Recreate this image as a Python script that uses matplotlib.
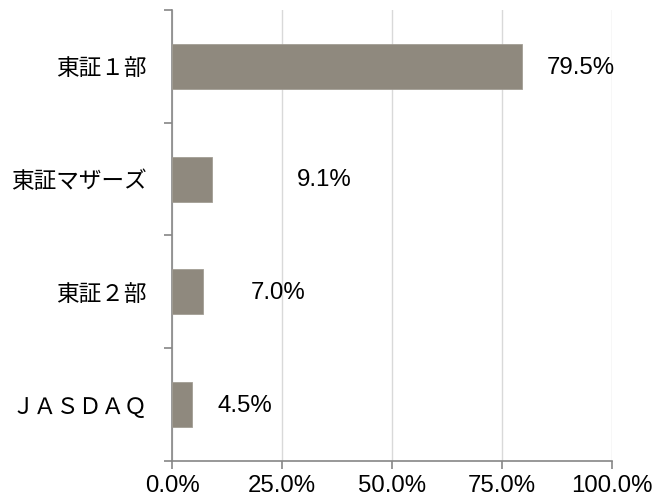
import numpy as np
import matplotlib
matplotlib.use('Agg')
import matplotlib.pyplot as plt
from matplotlib.ticker import FuncFormatter, FixedLocator

plt.rcParams['font.family'] = ['Liberation Sans', 'Noto Sans CJK JP', 'DejaVu Sans']

# data (top to bottom)
categories = ['東証１部', '東証マザーズ', '東証２部', 'ＪＡＳＤＡＱ']
shares = [79.5, 9.1, 7.0, 4.5]
value_labels = ['79.5%', '9.1%', '7.0%', '4.5%']
x_ticks = [0, 25, 50, 75, 100]

# where the data labels sit (left edge, in % units)
label_x = [85.2, 28.3, 17.9, 10.3]

fig = plt.figure(figsize=(6.54, 5.01), dpi=100)
ax = fig.add_axes([0.263, 0.080, 0.673, 0.900])

y_pos = np.arange(len(categories))[::-1]
ax.barh(y_pos, shares, height=0.4, color='#8f897e', edgecolor='#a39e95', linewidth=0.6, zorder=3)

for y, lx, txt in zip(y_pos, label_x, value_labels):
    ax.text(lx, y - 0.01, txt, va='center', ha='left', fontsize=17.3, color='black', zorder=4)

ax.set_xlim(0, 100)
ax.set_ylim(-0.5, len(categories) - 0.5)
ax.set_xticks(x_ticks)
ax.xaxis.set_major_formatter(FuncFormatter(lambda v, p: '%.1f%%' % v))
ax.tick_params(axis='x', labelsize=17.3, length=6, width=1.2, color='#868686', pad=4)

ax.set_yticks(y_pos)
ax.set_yticklabels(categories, family=['Noto Sans CJK JP', 'DejaVu Sans'], fontsize=16.3)
ax.tick_params(axis='y', which='major', length=0, pad=18)
ax.yaxis.set_minor_locator(FixedLocator(np.arange(-0.5, len(categories), 1.0)))
ax.tick_params(axis='y', which='minor', length=6, width=1.2, color='#868686')

ax.grid(axis='x', color='#d9d9d9', linewidth=1.0, zorder=0)
for s in ['top', 'right']:
    ax.spines[s].set_visible(False)
for s in ['left', 'bottom']:
    ax.spines[s].set_color('#868686')
    ax.spines[s].set_linewidth(1.2)

fig.savefig('out.png', dpi=100)
